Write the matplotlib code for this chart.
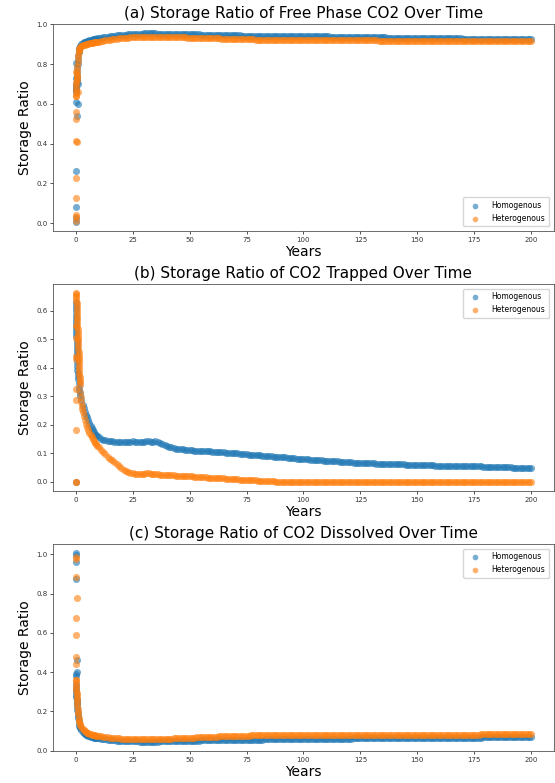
import matplotlib
matplotlib.use("Agg")
import matplotlib.pyplot as plt

# yearly samples after the first ten years (t = 10 .. 200), one row per decade
years = list(range(10, 201))

# ---- (a) free phase CO2 ----
free_hom_early_t = [0.0, 0.0, 0.0, 0.0, 0.6, 0.2, 0.9, 0.0, 0.9, 0.0,
                    0.05, 0.1, 0.15, 0.2, 0.25, 0.3, 0.35, 0.4, 0.45, 0.5,
                    0.6, 0.7, 0.8, 0.9, 1.0, 1.2, 1.4, 1.6, 1.8, 2.0, 2.5,
                    3.0, 3.5, 4.0, 4.5, 5.0, 5.5, 6.0, 6.5, 7.0, 7.5, 8.0, 8.5, 9.0, 9.5]
free_hom_early = [0.008, 0.025, 0.082, 0.263, 0.538, 0.61, 0.60, 0.73, 0.70, 0.804,
                  0.66, 0.668, 0.676, 0.684, 0.692, 0.70, 0.71, 0.72, 0.73, 0.74,
                  0.76, 0.78, 0.80, 0.82, 0.84, 0.858, 0.87, 0.879, 0.886, 0.891, 0.899,
                  0.906, 0.909, 0.911, 0.913, 0.915, 0.917, 0.919, 0.921, 0.922, 0.924,
                  0.925, 0.926, 0.927, 0.929]
free_het_early_t = [0.0, 0.0, 0.0, 0.0, 0.3, 0.0, 0.5, 0.0, 0.0, 0.0, 0.9, 0.2,
                    0.05, 0.1, 0.15, 0.2, 0.25, 0.3, 0.35, 0.4, 0.45, 0.5,
                    0.6, 0.7, 0.8, 0.9, 1.0, 1.2, 1.4, 1.6, 1.8, 2.0, 2.5,
                    3.0, 3.5, 4.0, 4.5, 5.0, 5.5, 6.0, 6.5, 7.0, 7.5, 8.0, 8.5, 9.0, 9.5]
free_het_early = [0.012, 0.03, 0.042, 0.127, 0.226, 0.415, 0.41, 0.525, 0.559, 0.64, 0.661, 0.762,
                  0.64, 0.655, 0.67, 0.685, 0.697, 0.71, 0.72, 0.73, 0.74, 0.75,
                  0.77, 0.79, 0.81, 0.83, 0.845, 0.86, 0.868, 0.875, 0.88, 0.884, 0.889,
                  0.894, 0.896, 0.898, 0.900, 0.901, 0.903, 0.904, 0.905, 0.906, 0.908,
                  0.909, 0.910, 0.911, 0.912]
free_hom = [
    0.930, 0.932, 0.934, 0.936, 0.938, 0.940, 0.941, 0.943, 0.944, 0.945,  # 10s
    0.946, 0.947, 0.948, 0.949, 0.950, 0.951, 0.952, 0.952, 0.953, 0.953,  # 20s
    0.954, 0.954, 0.954, 0.954, 0.954, 0.954, 0.953, 0.953, 0.953, 0.953,  # 30s
    0.952, 0.952, 0.952, 0.952, 0.951, 0.951, 0.951, 0.951, 0.950, 0.950,  # 40s
    0.950, 0.950, 0.949, 0.949, 0.949, 0.948, 0.948, 0.948, 0.947, 0.947,  # 50s
    0.947, 0.946, 0.946, 0.946, 0.946, 0.945, 0.945, 0.945, 0.945, 0.944,  # 60s
    0.944, 0.944, 0.944, 0.943, 0.943, 0.943, 0.943, 0.942, 0.942, 0.942,  # 70s
    0.942, 0.942, 0.941, 0.941, 0.941, 0.941, 0.941, 0.940, 0.940, 0.940,  # 80s
    0.940, 0.940, 0.940, 0.940, 0.940, 0.940, 0.940, 0.940, 0.940, 0.940,  # 90s
    0.940, 0.940, 0.940, 0.940, 0.940, 0.940, 0.940, 0.940, 0.940, 0.940,  # 100s
    0.940, 0.940, 0.935, 0.935, 0.935, 0.935, 0.935, 0.935, 0.935, 0.935,  # 110s
    0.935, 0.935, 0.935, 0.935, 0.935, 0.935, 0.935, 0.935, 0.935, 0.935,  # 120s
    0.935, 0.935, 0.935, 0.935, 0.935, 0.935, 0.935, 0.930, 0.930, 0.930,  # 130s
    0.930, 0.930, 0.930, 0.930, 0.930, 0.930, 0.930, 0.930, 0.930, 0.930,  # 140s
    0.930, 0.930, 0.930, 0.930, 0.930, 0.930, 0.930, 0.930, 0.930, 0.930,  # 150s
    0.930, 0.930, 0.930, 0.930, 0.930, 0.930, 0.930, 0.930, 0.930, 0.930,  # 160s
    0.925, 0.925, 0.925, 0.925, 0.925, 0.925, 0.925, 0.925, 0.925, 0.925,  # 170s
    0.925, 0.925, 0.925, 0.925, 0.925, 0.925, 0.925, 0.925, 0.925, 0.925,  # 180s
    0.925, 0.925, 0.925, 0.925, 0.925, 0.925, 0.925, 0.925, 0.925, 0.925,  # 190s
    0.925,                                                                 # 200
]
free_het = [
    0.913, 0.915, 0.917, 0.919, 0.921, 0.923, 0.925, 0.926, 0.928, 0.929,
    0.930, 0.931, 0.932, 0.933, 0.934, 0.935, 0.936, 0.936, 0.937, 0.937,
    0.938, 0.938, 0.938, 0.938, 0.938, 0.938, 0.937, 0.937, 0.937, 0.937,
    0.936, 0.936, 0.936, 0.935, 0.935, 0.935, 0.934, 0.934, 0.934, 0.933,
    0.933, 0.933, 0.932, 0.932, 0.932, 0.931, 0.931, 0.931, 0.930, 0.930,
    0.930, 0.929, 0.929, 0.929, 0.928, 0.928, 0.928, 0.927, 0.927, 0.927,
    0.926, 0.926, 0.926, 0.925, 0.925, 0.925, 0.924, 0.924, 0.924, 0.923,
    0.923, 0.923, 0.922, 0.922, 0.922, 0.922, 0.921, 0.921, 0.921, 0.921,
    0.920, 0.920, 0.920, 0.920, 0.920, 0.919, 0.919, 0.919, 0.919, 0.919,
    0.919, 0.919, 0.919, 0.919, 0.919, 0.919, 0.919, 0.919, 0.919, 0.919,
    0.919, 0.919, 0.919, 0.919, 0.919, 0.919, 0.919, 0.919, 0.919, 0.919,
    0.919, 0.919, 0.919, 0.919, 0.919, 0.919, 0.919, 0.919, 0.919, 0.919,
    0.919, 0.919, 0.919, 0.915, 0.915, 0.915, 0.915, 0.915, 0.915, 0.915,
    0.915, 0.915, 0.915, 0.915, 0.915, 0.915, 0.915, 0.915, 0.915, 0.915,
    0.915, 0.915, 0.915, 0.915, 0.915, 0.915, 0.915, 0.915, 0.915, 0.915,
    0.915, 0.915, 0.915, 0.915, 0.915, 0.915, 0.915, 0.915, 0.915, 0.915,
    0.915, 0.915, 0.915, 0.915, 0.915, 0.915, 0.915, 0.915, 0.915, 0.915,
    0.915, 0.915, 0.915, 0.915, 0.915, 0.915, 0.915, 0.915, 0.915, 0.915,
    0.915, 0.915, 0.915, 0.915, 0.915, 0.915, 0.915, 0.915, 0.915, 0.915,
    0.915,
]

# ---- (b) trapped CO2 ----
trap_hom_early_t = [0.0,
                    0.025, 0.05, 0.075, 0.1, 0.125, 0.15, 0.175, 0.2, 0.225, 0.25,
                    0.275, 0.3, 0.325, 0.35, 0.375, 0.4, 0.425, 0.45, 0.475, 0.5,
                    0.6, 0.7, 0.8, 0.9, 1.0, 1.2, 1.4, 1.6, 1.8, 2.0, 2.5,
                    3.0, 3.5, 4.0, 4.5, 5.0, 5.5, 6.0, 6.5, 7.0, 7.5, 8.0, 8.5, 9.0, 9.5]
trap_hom_early = [0.0,
                  0.63, 0.619, 0.608, 0.597, 0.586, 0.575, 0.564, 0.553, 0.542, 0.531,
                  0.52, 0.509, 0.498, 0.487, 0.476, 0.465, 0.454, 0.443, 0.432, 0.42,
                  0.405, 0.392, 0.38, 0.37, 0.36, 0.345, 0.332, 0.32, 0.31, 0.301, 0.285,
                  0.27, 0.257, 0.245, 0.235, 0.225, 0.215, 0.205, 0.196, 0.188, 0.181,
                  0.174, 0.168, 0.163, 0.159]
trap_het_early_t = [0.0, 0.05, 0.0, 0.1, 0.0, 0.0, 0.05, 0.0, 0.0,
                    0.1, 0.15, 0.2, 0.25, 0.3, 0.35, 0.4, 0.45, 0.5, 0.55,
                    0.6, 0.65, 0.7, 0.75, 0.8, 0.85, 0.9, 0.95, 1.0, 1.05,
                    1.1, 1.15, 1.2, 1.25, 1.3, 1.35, 1.4, 1.45, 1.5, 1.55,
                    1.6, 1.65, 1.7, 1.75, 1.8, 2.0, 2.2, 2.4, 2.6, 2.8,
                    3.0, 3.5, 4.0, 4.5, 5.0, 5.5, 6.0, 6.5, 7.0, 7.5, 8.0, 8.5, 9.0, 9.5]
trap_het_early = [0.0, 0.0, 0.18, 0.287, 0.325, 0.43, 0.44, 0.503, 0.545,
                  0.660, 0.658, 0.652, 0.644, 0.635, 0.625, 0.615, 0.605, 0.595, 0.585,
                  0.575, 0.565, 0.555, 0.545, 0.535, 0.525, 0.515, 0.505, 0.495, 0.485,
                  0.475, 0.465, 0.455, 0.445, 0.435, 0.425, 0.415, 0.405, 0.395, 0.385,
                  0.375, 0.366, 0.357, 0.348, 0.340, 0.315, 0.295, 0.28, 0.265, 0.255,
                  0.245, 0.23, 0.215, 0.202, 0.19, 0.18, 0.17, 0.162, 0.155, 0.148,
                  0.142, 0.136, 0.131, 0.126]
trap_hom = [
    0.155, 0.150, 0.147, 0.145, 0.143, 0.142, 0.141, 0.140, 0.139, 0.139,
    0.140, 0.139, 0.138, 0.139, 0.140, 0.141, 0.139, 0.138, 0.139, 0.140,
    0.139, 0.141, 0.142, 0.140, 0.140, 0.141, 0.139, 0.136, 0.132, 0.128,
    0.125, 0.122, 0.120, 0.118, 0.116, 0.115, 0.114, 0.113, 0.112, 0.111,
    0.110, 0.110, 0.109, 0.109, 0.108, 0.108, 0.107, 0.107, 0.106, 0.106,
    0.105, 0.105, 0.104, 0.104, 0.103, 0.103, 0.102, 0.101, 0.101, 0.100,
    0.099, 0.099, 0.098, 0.097, 0.097, 0.096, 0.095, 0.095, 0.094, 0.093,
    0.093, 0.092, 0.091, 0.091, 0.090, 0.089, 0.089, 0.088, 0.087, 0.087,
    0.086, 0.085, 0.085, 0.084, 0.083, 0.083, 0.082, 0.081, 0.081, 0.080,
    0.079, 0.079, 0.078, 0.077, 0.077, 0.076, 0.076, 0.075, 0.075, 0.074,
    0.073, 0.073, 0.072, 0.072, 0.071, 0.071, 0.070, 0.070, 0.069, 0.069,
    0.068, 0.068, 0.067, 0.067, 0.066, 0.066, 0.066, 0.065, 0.065, 0.064,
    0.064, 0.064, 0.063, 0.063, 0.063, 0.062, 0.062, 0.062, 0.061, 0.061,
    0.061, 0.060, 0.060, 0.060, 0.060, 0.059, 0.059, 0.059, 0.059, 0.058,
    0.058, 0.058, 0.058, 0.057, 0.057, 0.057, 0.057, 0.057, 0.056, 0.056,
    0.056, 0.056, 0.056, 0.055, 0.055, 0.055, 0.055, 0.055, 0.054, 0.054,
    0.054, 0.054, 0.054, 0.054, 0.053, 0.053, 0.053, 0.053, 0.053, 0.052,
    0.052, 0.052, 0.052, 0.052, 0.051, 0.051, 0.051, 0.051, 0.050, 0.050,
    0.050, 0.050, 0.049, 0.049, 0.049, 0.049, 0.049, 0.048, 0.048, 0.048,
    0.048,
]
trap_het = [
    0.121, 0.112, 0.104, 0.096, 0.088, 0.081, 0.075, 0.069, 0.062, 0.055,
    0.048, 0.042, 0.037, 0.033, 0.030, 0.029, 0.028, 0.027, 0.027, 0.026,
    0.026, 0.029, 0.030, 0.028, 0.026, 0.025, 0.025, 0.024, 0.024, 0.023,
    0.023, 0.023, 0.022, 0.022, 0.021, 0.021, 0.020, 0.020, 0.019, 0.019,
    0.018, 0.018, 0.017, 0.017, 0.016, 0.016, 0.015, 0.015, 0.014, 0.014,
    0.013, 0.013, 0.012, 0.012, 0.011, 0.011, 0.010, 0.010, 0.009, 0.009,
    0.008, 0.008, 0.007, 0.007, 0.006, 0.006, 0.005, 0.005, 0.004, 0.004,
    0.003, 0.003, 0.002, 0.002, 0.002, 0.001, 0.001, 0.001, 0.000, 0.000,
    0.000, 0.000, 0.000, 0.000, 0.000, 0.000, 0.000, 0.000, 0.000, 0.000,
    0.000, 0.000, 0.000, 0.000, 0.000, 0.000, 0.000, 0.000, 0.000, 0.000,
    0.000, 0.000, 0.000, 0.000, 0.000, 0.000, 0.000, 0.000, 0.000, 0.000,
    0.000, 0.000, 0.000, 0.000, 0.000, 0.000, 0.000, 0.000, 0.000, 0.000,
    0.000, 0.000, 0.000, 0.000, 0.000, 0.000, 0.000, 0.000, 0.000, 0.000,
    0.000, 0.000, 0.000, 0.000, 0.000, 0.000, 0.000, 0.000, 0.000, 0.000,
    0.000, 0.000, 0.000, 0.000, 0.000, 0.000, 0.000, 0.000, 0.000, 0.000,
    0.000, 0.000, 0.000, 0.000, 0.000, 0.000, 0.000, 0.000, 0.000, 0.000,
    0.000, 0.000, 0.000, 0.000, 0.000, 0.000, 0.000, 0.000, 0.000, 0.000,
    0.000, 0.000, 0.000, 0.000, 0.000, 0.000, 0.000, 0.000, 0.000, 0.000,
    0.000, 0.000, 0.000, 0.000, 0.000, 0.000, 0.000, 0.000, 0.000, 0.000,
    0.000,
]

# ---- (c) dissolved CO2 ----
diss_hom_early_t = [0.0, 0.0, 0.0, 0.0, 0.4, 0.5, 0.3, 0.3,
                    0.05, 0.1, 0.15, 0.2, 0.25, 0.3, 0.35, 0.4, 0.45, 0.5,
                    0.6, 0.7, 0.8, 0.9, 1.0, 1.2, 1.4, 1.6, 1.8, 2.0, 2.5,
                    3.0, 3.5, 4.0, 4.5, 5.0, 5.5, 6.0, 6.5, 7.0, 7.5, 8.0, 8.5, 9.0, 9.5]
diss_hom_early = [1.005, 0.997, 0.962, 0.874, 0.463, 0.403, 0.39, 0.38,
                  0.34, 0.325, 0.31, 0.297, 0.285, 0.275, 0.265, 0.255, 0.245, 0.235,
                  0.22, 0.205, 0.19, 0.178, 0.168, 0.15, 0.137, 0.127, 0.12, 0.114, 0.104,
                  0.095, 0.09, 0.085, 0.081, 0.078, 0.075, 0.073, 0.071, 0.069, 0.067,
                  0.066, 0.065, 0.064, 0.063]
diss_het_early_t = [0.0, 0.0, 0.0, 0.4, 0.0, 0.3, 0.0, 0.0, 0.0,
                    0.1, 0.15, 0.2, 0.25, 0.3, 0.35, 0.4, 0.45, 0.5,
                    0.6, 0.7, 0.8, 0.9, 1.0, 1.2, 1.4, 1.6, 1.8, 2.0, 2.5,
                    3.0, 3.5, 4.0, 4.5, 5.0, 5.5, 6.0, 6.5, 7.0, 7.5, 8.0, 8.5, 9.0, 9.5]
diss_het_early = [0.988, 0.975, 0.886, 0.775, 0.675, 0.59, 0.476, 0.442, 0.361,
                  0.36, 0.345, 0.33, 0.318, 0.305, 0.293, 0.281, 0.27, 0.26,
                  0.24, 0.225, 0.21, 0.197, 0.185, 0.168, 0.155, 0.145, 0.137, 0.13, 0.118,
                  0.108, 0.103, 0.098, 0.094, 0.091, 0.088, 0.086, 0.084, 0.082, 0.080,
                  0.079, 0.077, 0.076, 0.075]
diss_hom = [
    0.062, 0.060, 0.058, 0.057, 0.055, 0.054, 0.053, 0.052, 0.051, 0.051,
    0.050, 0.049, 0.049, 0.048, 0.048, 0.047, 0.047, 0.047, 0.046, 0.046,
    0.046, 0.046, 0.046, 0.046, 0.046, 0.046, 0.046, 0.047, 0.047, 0.047,
    0.047, 0.047, 0.048, 0.048, 0.048, 0.049, 0.049, 0.049, 0.050, 0.050,
    0.050, 0.051, 0.051, 0.051, 0.051, 0.052, 0.052, 0.052, 0.052, 0.053,
    0.053, 0.053, 0.053, 0.053, 0.054, 0.054, 0.054, 0.054, 0.054, 0.055,
    0.055, 0.055, 0.055, 0.055, 0.055, 0.056, 0.056, 0.056, 0.056, 0.056,
    0.056, 0.056, 0.056, 0.057, 0.057, 0.057, 0.057, 0.057, 0.057, 0.057,
    0.057, 0.057, 0.057, 0.057, 0.057, 0.057, 0.057, 0.060, 0.060, 0.060,
    0.060, 0.060, 0.060, 0.060, 0.060, 0.060, 0.060, 0.060, 0.060, 0.060,
    0.060, 0.060, 0.060, 0.060, 0.060, 0.060, 0.060, 0.060, 0.060, 0.060,
    0.060, 0.060, 0.062, 0.062, 0.062, 0.062, 0.062, 0.062, 0.062, 0.062,
    0.062, 0.062, 0.062, 0.062, 0.062, 0.062, 0.062, 0.062, 0.062, 0.062,
    0.062, 0.062, 0.062, 0.062, 0.062, 0.062, 0.062, 0.065, 0.065, 0.065,
    0.065, 0.065, 0.065, 0.065, 0.065, 0.065, 0.065, 0.065, 0.065, 0.065,
    0.065, 0.065, 0.065, 0.065, 0.065, 0.065, 0.065, 0.065, 0.065, 0.065,
    0.065, 0.065, 0.065, 0.065, 0.065, 0.065, 0.065, 0.065, 0.065, 0.070,
    0.070, 0.070, 0.070, 0.070, 0.070, 0.070, 0.070, 0.070, 0.070, 0.070,
    0.070, 0.070, 0.070, 0.070, 0.070, 0.070, 0.070, 0.070, 0.070, 0.070,
    0.070,
]
diss_het = [
    0.074, 0.072, 0.070, 0.069, 0.067, 0.066, 0.065, 0.064, 0.063, 0.062,
    0.061, 0.060, 0.060, 0.059, 0.059, 0.058, 0.058, 0.058, 0.057, 0.057,
    0.057, 0.057, 0.057, 0.058, 0.058, 0.058, 0.059, 0.059, 0.059, 0.060,
    0.060, 0.061, 0.061, 0.062, 0.062, 0.063, 0.063, 0.064, 0.064, 0.065,
    0.065, 0.066, 0.066, 0.067, 0.067, 0.068, 0.068, 0.069, 0.069, 0.070,
    0.070, 0.071, 0.071, 0.072, 0.072, 0.073, 0.073, 0.074, 0.074, 0.074,
    0.075, 0.075, 0.075, 0.076, 0.076, 0.076, 0.076, 0.077, 0.077, 0.077,
    0.077, 0.077, 0.077, 0.077, 0.077, 0.077, 0.077, 0.077, 0.078, 0.078,
    0.078, 0.078, 0.078, 0.078, 0.078, 0.078, 0.078, 0.078, 0.078, 0.078,
    0.078, 0.078, 0.078, 0.078, 0.078, 0.078, 0.078, 0.078, 0.078, 0.078,
    0.078, 0.078, 0.078, 0.078, 0.078, 0.078, 0.078, 0.078, 0.078, 0.078,
    0.078, 0.078, 0.078, 0.078, 0.078, 0.078, 0.078, 0.078, 0.078, 0.078,
    0.078, 0.078, 0.078, 0.078, 0.078, 0.078, 0.078, 0.078, 0.078, 0.078,
    0.078, 0.078, 0.078, 0.078, 0.078, 0.078, 0.078, 0.078, 0.078, 0.078,
    0.078, 0.078, 0.078, 0.078, 0.078, 0.078, 0.078, 0.078, 0.078, 0.078,
    0.078, 0.078, 0.078, 0.078, 0.078, 0.078, 0.078, 0.078, 0.078, 0.078,
    0.078, 0.078, 0.078, 0.078, 0.078, 0.078, 0.078, 0.078, 0.085, 0.085,
    0.085, 0.085, 0.085, 0.085, 0.085, 0.085, 0.085, 0.085, 0.085, 0.085,
    0.085, 0.085, 0.085, 0.085, 0.085, 0.085, 0.085, 0.085, 0.085, 0.085,
    0.085,
]

titles = [
    "(a) Storage Ratio of Free Phase CO2 Over Time",
    "(b) Storage Ratio of CO2 Trapped Over Time",
    "(c) Storage Ratio of CO2 Dissolved Over Time",
]
series_labels = ["Homogenous", "Heterogenous"]
legend_locs = ["lower right", "upper right", "upper right"]

panels = [
    (free_hom_early_t, free_hom_early, free_hom, free_het_early_t, free_het_early, free_het),
    (trap_hom_early_t, trap_hom_early, trap_hom, trap_het_early_t, trap_het_early, trap_het),
    (diss_hom_early_t, diss_hom_early, diss_hom, diss_het_early_t, diss_het_early, diss_het),
]

fig = plt.figure(figsize=(5.55, 7.83), dpi=100)
left, width, height = 0.0955, 0.9025, 0.2644
bottoms = [0.705, 0.3729, 0.0409]

for i, (h_t0, h0, h, e_t0, e0, e) in enumerate(panels):
    ax = fig.add_axes([left, bottoms[i], width, height])
    ax.scatter(h_t0 + years, h0 + h, s=26, color="tab:blue", alpha=0.6,
               linewidths=0, label=series_labels[0])
    ax.scatter(e_t0 + years, e0 + e, s=26, color="tab:orange", alpha=0.6,
               linewidths=0, label=series_labels[1])
    ax.set_title(titles[i], fontsize=11, pad=4)
    ax.set_xlabel("Years", fontsize=10, labelpad=2)
    ax.set_ylabel("Storage Ratio", fontsize=10, labelpad=3)
    ax.set_xticks([0, 25, 50, 75, 100, 125, 150, 175, 200])
    ax.tick_params(labelsize=5, length=2, width=0.6, pad=2, colors="#333333")
    for sp in ax.spines.values():
        sp.set_linewidth(0.6)
        sp.set_color("#555555")
    ax.legend(loc=legend_locs[i], fontsize=5.5, borderaxespad=0.6,
              handletextpad=1.2, borderpad=0.5, markerscale=0.8)

fig.savefig("out.png", dpi=100)
